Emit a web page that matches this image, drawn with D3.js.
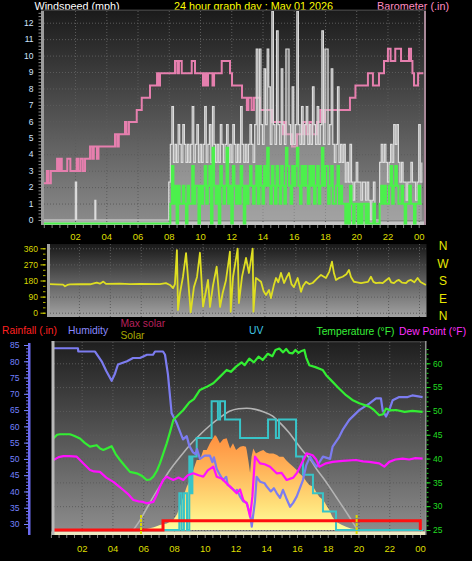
<!DOCTYPE html>
<html>
<head>
<meta charset="utf-8">
<script src="https://cdn.jsdelivr.net/npm/d3@7/dist/d3.min.js"></script>
<style>
html,body{margin:0;padding:0;background:#000;}
svg{display:block;}
</style>
</head>
<body>
<svg id="chart" width="472" height="561"></svg>
<script>
// ================= DATA =================
const hourTicks = [2,4,6,8,10,12,14,16,18,20,22,24];
const hourTickLabels = ["02","04","06","08","10","12","14","16","18","20","22","00"];
const windTicks = [0,1,2,3,4,5,6,7,8,9,10,11,12];
const baroTicks = [29.78,29.79,29.8,29.81,29.82,29.83,29.84,29.85,29.86,29.87,29.88,29.89,29.9,29.91,29.92,29.93,29.94,29.95];
const dirTicks = [0,90,180,270,360];
const compassLabels = ["N","W","S","E","N"];
const humidityTicks = [30,35,40,45,50,55,60,65,70,75,80,85];
const rainTicks = [0,0.1,0.2];
const rainTickLabels = ["0","0.1","0.2"];
const tempTicks = [25,30,35,40,45,50,55,60];

// barometer (.in) steps: [hour, value]
const baroSteps = [[0,29.81],[0.2,29.82],[0.3,29.81],[0.45,29.82],[0.85,29.83],[0.95,29.82],[1.05,29.83],[1.15,29.82],[1.5,29.83],[1.7,29.82],[2.1,29.83],[2.2,29.82],[2.35,29.83],[2.5,29.82],[2.64,29.83],[2.96,29.84],[3.1,29.83],[3.2,29.84],[3.4,29.83],[3.5,29.84],[4.56,29.85],[4.7,29.84],[4.8,29.85],[5.2,29.86],[5.3,29.85],[5.45,29.86],[5.95,29.87],[6.27,29.88],[6.8,29.89],[7.25,29.9],[7.35,29.89],[7.44,29.9],[8.4,29.91],[8.55,29.9],[8.65,29.91],[8.83,29.9],[9.47,29.91],[9.68,29.9],[10.19,29.89],[10.3,29.9],[10.4,29.89],[10.51,29.9],[10.8,29.89],[10.9,29.9],[11.39,29.91],[11.92,29.9],[12.05,29.89],[12.69,29.88],[13.0,29.87],[13.1,29.88],[13.3,29.87],[13.45,29.88],[13.84,29.87],[14.61,29.86],[15.31,29.85],[15.4,29.86],[15.5,29.85],[15.89,29.84],[16.21,29.85],[16.59,29.86],[16.8,29.85],[17.0,29.86],[17.2,29.85],[17.49,29.86],[17.7,29.87],[17.85,29.86],[18.0,29.87],[19.6,29.88],[19.95,29.89],[20.75,29.9],[21.07,29.89],[21.46,29.9],[21.78,29.91],[22.03,29.92],[22.2,29.91],[22.5,29.92],[22.87,29.91],[23.38,29.92],[23.51,29.91],[23.6,29.9],[23.7,29.89],[23.96,29.9],[24.3,29.9]];

// wind gust (mph) before 08:00 : [hour, value]
const gustEarly = [[0,0],[2.02,2.3],[2.1,0],[3.27,1.2],[3.33,0]];
// wind gust / speed (mph) from 08:00, one value per 0.1 h
const windStartHour = 8.0, windStepHour = 0.1;
const gustMph = [
 2.3,4.6,6.9,3.5,4.6,3.5,5.8,4.6,3.5,5.8,
 4.6,3.5,4.6,3.5,4.6,6.9,3.5,4.6,5.8,3.5,
 4.6,3.5,4.6,6.9,3.5,4.6,5.8,3.5,6.9,4.6,
 3.5,4.6,3.5,5.8,4.6,3.5,4.6,5.8,3.5,4.6,
 3.5,5.8,4.6,3.5,4.6,3.5,6.9,4.6,3.5,4.6,
 3.5,4.6,5.8,4.6,3.5,5.8,10.4,4.6,10.4,5.8,
 4.6,9.2,5.8,10.4,8.1,4.6,12.7,5.8,4.6,11.5,
 5.8,4.6,9.2,5.8,4.6,10.4,10.4,5.8,4.6,8.1,
 4.6,5.8,12.7,5.8,4.6,6.9,4.6,5.8,6.9,4.6,
 5.8,4.6,8.1,5.8,4.6,6.9,4.6,5.8,11.5,4.6,
 10.4,10.4,4.6,5.8,9.2,4.6,3.5,4.6,8.1,3.5,
 4.6,3.5,4.6,2.3,3.5,2.3,4.6,2.3,1.2,2.3,
 3.5,2.3,2.3,1.2,2.3,2.3,1.2,2.3,1.2,0,
 1.2,2.3,0,0,0,3.5,4.6,3.5,4.6,3.5,
 2.3,3.5,4.6,3.5,5.8,4.6,5.8,3.5,2.3,3.5,
 2.3,2.3,1.2,2.3,2.3,3.5,2.3,2.3,1.2,2.3,
 5.8,2.3,3.5];
const speedMph = [
 0,1.2,3.5,1.2,2.3,0,2.3,1.2,1.2,2.3,
 1.2,0,2.3,1.2,1.2,3.5,1.2,2.3,2.3,0,
 2.3,1.2,2.3,3.5,1.2,2.3,3.5,0,4.6,2.3,
 1.2,2.3,0,3.5,2.3,1.2,2.3,4.6,1.2,2.3,
 0,3.5,2.3,1.2,2.3,1.2,3.5,2.3,0,2.3,
 1.2,2.3,3.5,2.3,1.2,2.3,3.5,1.2,3.5,2.3,
 1.2,3.5,2.3,4.6,2.3,1.2,3.5,2.3,1.2,3.5,
 2.3,1.2,3.5,2.3,1.2,4.6,3.5,2.3,1.2,3.5,
 2.3,3.5,4.6,2.3,1.2,3.5,2.3,3.5,2.3,1.2,
 3.5,2.3,3.5,1.2,2.3,3.5,1.2,2.3,4.6,2.3,
 3.5,3.5,1.2,2.3,3.5,1.2,1.2,2.3,3.5,1.2,
 2.3,1.2,1.2,0,1.2,0,2.3,1.2,0,1.2,
 1.2,0,1.2,0,1.2,1.2,0,1.2,0,0,
 0,1.2,0,0,0,1.2,2.3,1.2,2.3,1.2,
 1.2,2.3,3.5,1.2,2.3,3.5,2.3,1.2,1.2,2.3,
 1.2,0,1.2,1.2,2.3,1.2,1.2,0,1.2,1.2,
 2.3,1.2,1.2];

// wind direction (deg): [hour, value]
const windDir = [[0,160],[0.5,158],[0.97,157],[1.1,148],[1.25,155],[1.42,158],[2.07,160],[2.72,159],[3.15,168],[3.36,162],[3.58,174],[3.75,161],[4.66,162],[5.3,160],[5.95,161],[7.24,160],[7.63,165],[7.89,155],[8.09,138],[8.21,160],[8.34,350],[8.41,15],[8.54,110],[8.73,200],[8.93,333],[9.23,2],[9.44,143],[9.64,200],[9.83,335],[10.03,33],[10.35,183],[10.48,32],[10.67,150],[10.91,257],[11.13,32],[11.3,110],[11.51,180],[11.77,341],[11.82,5],[11.97,201],[12.27,358],[12.35,54],[12.55,200],[12.81,306],[13.0,222],[13.24,358],[13.29,6],[13.45,194],[13.6,185],[13.78,173],[13.95,120],[14.1,99],[14.3,127],[14.42,82],[14.6,150],[14.75,194],[14.9,170],[15.07,222],[15.27,166],[15.45,200],[15.59,222],[15.75,160],[15.91,143],[16.15,194],[16.37,117],[16.5,150],[16.69,173],[16.9,160],[17.12,166],[17.4,190],[17.66,211],[17.98,194],[18.2,230],[18.37,285],[18.5,220],[18.63,183],[18.85,195],[19.06,201],[19.3,215],[19.47,239],[19.6,200],[19.79,173],[20.0,170],[20.25,165],[20.5,170],[20.7,172],[20.89,201],[21.05,172],[21.22,165],[21.45,168],[21.65,165],[21.85,180],[22.06,194],[22.2,170],[22.38,165],[22.55,178],[22.7,183],[22.9,168],[23.16,165],[23.3,178],[23.48,183],[23.7,170],[23.91,194],[24.1,172],[24.45,155]];

// humidity (%)
const humidity = [[0,84],[1.76,84],[1.78,83],[2.87,83],[3.3,80],[3.6,77],[3.95,74],[4.15,76],[4.36,79],[4.95,80],[5.34,81],[5.79,81],[6.25,82],[6.64,82],[6.77,83],[7.29,83],[7.42,82],[7.61,76],[7.85,64],[8.18,61],[8.59,56],[8.83,57],[9.0,54],[9.24,52],[9.4,51.5],[9.5,53],[9.69,50],[10.0,51],[10.34,51],[10.5,49],[10.6,50.5],[10.78,47],[11.0,45],[11.19,43.5],[11.4,44.5],[11.5,42],[11.65,41.5],[12.0,40],[12.1,40.5],[12.3,38.4],[12.5,37],[12.73,36.5],[12.95,33],[13.06,29.2],[13.16,33],[13.27,37],[13.38,44.5],[13.6,43],[13.9,42.5],[14.03,41.5],[14.3,40],[14.5,41],[14.68,39.5],[14.9,38],[15.09,40.5],[15.3,38],[15.55,35.3],[15.75,36.5],[15.98,38.4],[16.39,43.5],[16.6,48],[16.85,50.7],[17.05,49],[17.28,47.6],[17.69,50.7],[18.15,50],[18.32,53.8],[18.75,56.8],[18.97,58.9],[19.4,62],[20.05,65],[20.7,67],[21.14,68.6],[21.46,68.6],[21.57,65],[21.79,63],[22.0,65],[22.22,68],[22.65,69],[23.2,69],[23.5,69.5],[24.17,69]];
// temperature (F)
const temperature = [[0.16,44.2],[0.4,45],[0.59,45.1],[1.24,45.1],[1.5,44.8],[1.89,44.2],[2.2,43.3],[2.54,42.5],[2.98,42.8],[3.2,42.1],[3.41,41.8],[3.7,42.2],[3.95,42.6],[4.2,41],[4.49,39.7],[4.8,38.5],[5.14,37.2],[5.58,36.9],[5.9,36.4],[6.23,35.5],[6.45,35.6],[6.66,36.2],[6.9,37.5],[7.09,39],[7.3,41],[7.53,43.2],[7.74,45.5],[7.96,48.1],[8.3,49.2],[8.61,50.2],[9.0,51.8],[9.3,52.5],[9.69,54.4],[10.1,55],[10.56,55.8],[11.0,57.2],[11.43,58.6],[11.7,58.2],[12.04,59.3],[12.4,60.2],[12.6,59.6],[12.9,61],[13.2,60.2],[13.5,61.4],[13.77,60.7],[14.1,62],[14.4,61.5],[14.6,62.8],[14.85,63.1],[15.1,62.3],[15.3,63],[15.5,62.2],[15.72,62.1],[15.9,62.8],[16.1,62.2],[16.3,62.6],[16.48,62.8],[16.6,61.2],[16.8,59.6],[17.2,59.2],[17.67,58.6],[17.9,57.5],[18.32,56.1],[18.7,54.8],[19.19,53.3],[19.6,52.3],[20.05,51.6],[20.7,50.9],[21.0,50.2],[21.35,49.1],[21.6,49.3],[21.79,50.5],[22.1,50.1],[22.44,50.2],[23.0,49.8],[23.5,50],[24.17,49.8]];
// dew point (F)
const dewPoint = [[0.16,39.7],[0.5,40.3],[0.81,40.5],[1.2,40.5],[1.68,40.4],[2.1,39],[2.54,37.6],[2.8,37.3],[3.19,37.2],[3.6,36],[4.06,35.1],[4.4,34.2],[4.71,33.4],[5.0,32.6],[5.36,31.3],[5.7,31],[6.0,30.9],[6.23,30.6],[6.66,30.9],[6.9,32.5],[7.09,34.1],[7.3,35.5],[7.53,36.2],[7.75,35.8],[7.96,35.5],[8.3,36],[8.61,35.5],[8.9,36.5],[9.26,36.9],[9.6,36.5],[9.91,36.2],[10.2,37.5],[10.56,38.3],[10.78,36.2],[11.1,35.8],[11.43,34.8],[11.75,33.8],[12.08,32.7],[12.3,33.5],[12.51,31.3],[12.75,30.5],[12.95,27.8],[13.1,32],[13.27,40.4],[13.6,39],[13.9,38.8],[14.25,38.3],[14.68,36.9],[15.0,37],[15.33,35.5],[15.76,36],[16.0,37],[16.2,38.3],[16.63,41.1],[17.02,40.7],[17.25,39.8],[17.45,38.3],[17.89,39],[18.32,39.3],[18.97,39.5],[19.84,39.7],[20.3,39.4],[20.7,39.3],[21.35,39],[21.68,38.3],[22.0,39.3],[22.4,39.8],[22.87,40],[23.3,39.8],[23.7,40.1],[24.17,40]];
// UV index steps
const uvSteps = [[0,0],[8.35,2],[8.5,0],[8.65,2],[8.85,0],[9.0,4],[9.1,2],[9.2,4],[9.48,5],[10.45,7],[10.86,6],[11.0,7],[11.32,6],[12.3,5],[14.12,6],[14.63,5],[14.83,6],[15.94,4],[16.39,3],[17.04,2],[17.69,1],[18.54,0],[24.2,0]];
// solar radiation (W/m2)
const solar = [[5.79,0],[6.23,8],[6.7,20],[7.09,38],[7.53,50],[7.96,76],[8.2,120],[8.39,177],[8.6,250],[8.83,330],[9.04,380],[9.26,456],[9.48,533],[9.69,533],[9.91,608],[10.13,608],[10.34,660],[10.5,690],[10.67,723],[10.78,710],[10.99,660],[11.2,690],[11.43,698],[11.65,621],[11.84,660],[12.04,608],[12.3,634],[12.5,640],[12.68,634],[12.73,608],[12.85,520],[12.95,433],[13.05,560],[13.16,621],[13.33,583],[13.6,600],[13.81,608],[14.0,590],[14.2,583],[14.46,583],[14.7,570],[14.85,558],[15.11,558],[15.3,530],[15.5,507],[15.76,482],[15.95,460],[16.15,431],[16.41,406],[16.6,370],[16.8,342],[17.06,330],[17.25,290],[17.45,253],[17.71,228],[17.9,190],[18.1,152],[18.3,100],[18.54,63],[18.9,40],[19.19,25],[19.5,12],[19.84,5],[20.1,0]];
// max solar (W/m2)
const maxSolar = [[5.36,0],[5.8,75],[6.44,209],[7.09,335],[7.74,456],[8.39,555],[9.04,647],[9.69,725],[10.34,795],[10.99,855],[11.65,905],[12.2,922],[12.73,926],[13.3,918],[13.81,900],[14.4,868],[14.9,815],[15.45,745],[15.94,670],[16.4,600],[16.85,540],[17.24,469],[17.71,395],[18.1,330],[18.54,253],[18.97,178],[19.4,101],[19.7,45],[19.95,0]];
// rainfall (.in) steps
const rainSteps = [[0,0],[7.29,0.01],[24.02,0]];
// sunrise / sunset markers (hour)
const sunMarks = [5.86, 19.88];

// ================= DRAW =================
const FONT = '"Liberation Sans", Arial, Helvetica, sans-serif';
const svg = d3.select("#chart");
const defs = svg.append("defs");

function vgrad(id, y1, y2, stops) {
  const g = defs.append("linearGradient").attr("id", id)
    .attr("gradientUnits", "userSpaceOnUse").attr("x1", 0).attr("x2", 0).attr("y1", y1).attr("y2", y2);
  stops.forEach(s => g.append("stop").attr("offset", s[0]).attr("stop-color", s[1]));
}
function clip(id, x, y, w, h) {
  defs.append("clipPath").attr("id", id).append("rect").attr("x", x).attr("y", y).attr("width", w).attr("height", h);
}
function styleAxis(g, color, size, keepDomain) {
  g.attr("font-family", FONT).attr("font-size", size);
  if (!keepDomain) g.select(".domain").remove();
  g.selectAll("line").attr("stroke", color);
  g.selectAll("text").attr("fill", color);
  return g;
}
function grid(g) {
  g.select(".domain").remove();
  g.selectAll("text").remove();
  g.selectAll("line").attr("stroke", "#5c5c5c").attr("stroke-dasharray", "1,2");
}
function txt(x, y, s, color, size, anchor) {
  return svg.append("text").attr("x", x).attr("y", y).text(s).attr("fill", color)
    .attr("font-size", size).attr("font-family", FONT).attr("text-anchor", anchor || "start");
}

// ---------- titles
txt(34.5, 10, "Windspeed (mph)", "#ffffff", 10.8);
txt(174, 10, "24 hour graph day : May 01 2026", "#ffff00", 10.8);
txt(377, 10, "Barometer (.in)", "#ff8cc0", 10.8);

// ================= PANEL 1 : wind + barometer =================
const xTop = d3.scaleLinear().domain([0, 24]).range([43.8, 418.7]);
const yWind = d3.scaleLinear().domain([0, 12]).range([220, 22.7]);
const yBaro = d3.scaleLinear().domain([29.78, 29.95]).range([220, 12]);

vgrad("bg1", 11, 222, [[0, "#1b1b1b"], [1, "#8a8a8a"]]);
svg.append("rect").attr("x", 44).attr("y", 11).attr("width", 381).attr("height", 211).attr("fill", "url(#bg1)");
svg.append("rect").attr("x", 41).attr("y", 9.5).attr("width", 385).attr("height", 1.5).attr("fill", "#3c3c3c");
svg.append("rect").attr("x", 44).attr("y", 221.5).attr("width", 381).attr("height", 3.5).attr("fill", "#c4c4c4");
grid(svg.append("g").attr("transform", "translate(0,222)").call(d3.axisBottom(xTop).tickValues(hourTicks).tickSize(-211)));
grid(svg.append("g").attr("transform", "translate(44,0)").call(d3.axisLeft(yWind).tickValues(windTicks.slice(1)).tickSize(-381)));

clip("c1", 44, 11, 381, 214.5);
const p1 = svg.append("g").attr("clip-path", "url(#c1)");

// barometer
p1.append("path").datum(baroSteps)
  .attr("d", d3.line().x(d => xTop(d[0])).y(d => yBaro(d[1])).curve(d3.curveStepAfter))
  .attr("fill", "none").attr("stroke", "#e67fae").attr("stroke-width", 2);

// gust
const gustData = gustEarly.concat(gustMph.map((v, i) => [windStartHour + i * windStepHour, v]));
p1.append("path").datum(gustData)
  .attr("d", d3.area().x(d => xTop(d[0])).y0(yWind(0)).y1(d => yWind(d[1])).curve(d3.curveStepAfter))
  .attr("fill", "#c8c8c8").attr("fill-opacity", 0.4);
p1.append("path").datum(gustData)
  .attr("d", d3.line().x(d => xTop(d[0])).y(d => yWind(d[1])).curve(d3.curveStepAfter))
  .attr("fill", "none").attr("stroke", "#dcdcdc").attr("stroke-width", 1.2);

// speed
const speedData = [[0, 0]].concat(speedMph.map((v, i) => [windStartHour + i * windStepHour, v]));
p1.append("path").datum(speedData).attr("transform", "translate(0,3.5)")
  .attr("d", d3.line().x(d => xTop(d[0])).y(d => yWind(d[1])).curve(d3.curveStepAfter))
  .attr("fill", "none").attr("stroke", "#4cf04c").attr("stroke-width", 2);

// left axis (wind)
svg.append("rect").attr("x", 41).attr("y", 11).attr("width", 3).attr("height", 214).attr("fill", "#9c9c9c");
styleAxis(svg.append("g").attr("transform", "translate(41,0)")
  .call(d3.axisLeft(yWind).tickValues(d3.range(0, 12.75, 0.2)).tickSize(2.5).tickFormat("")), "#8a8a8a", 8);
styleAxis(svg.append("g").attr("transform", "translate(41,0)")
  .call(d3.axisLeft(yWind).tickValues(windTicks).tickSize(0).tickPadding(7.5).tickFormat(d3.format("d"))), "#d2e4ff", 8.5);

// right axis (barometer)
clip("cb", 420, 11, 52, 215);
svg.append("rect").attr("x", 424).attr("y", 11).attr("width", 2).attr("height", 214).attr("fill", "#a88898");
styleAxis(svg.append("g").attr("clip-path", "url(#cb)").attr("transform", "translate(426,0)")
  .call(d3.axisRight(yBaro).tickValues(d3.range(29.78, 29.9526, 0.005)).tickSize(2.5).tickFormat("")), "#d070a0", 8);
styleAxis(svg.append("g").attr("clip-path", "url(#cb)").attr("transform", "translate(426,0)")
  .call(d3.axisRight(yBaro).tickValues(baroTicks).tickSize(3.5).tickPadding(2).tickFormat(d => String(d))), "#ff88bb", 8);

// x axis
styleAxis(svg.append("g").attr("transform", "translate(0,225)")
  .call(d3.axisBottom(xTop).tickValues(d3.range(0, 24.5, 0.5)).tickSize(3).tickFormat("")), "#808080", 8);
styleAxis(svg.append("g").attr("transform", "translate(0,225)")
  .call(d3.axisBottom(xTop).tickValues(hourTicks).tickSize(0).tickPadding(8.5).tickFormat((d, i) => hourTickLabels[i])), "#dede00", 9.5);

// ================= PANEL 2 : wind direction =================
const xDir = d3.scaleLinear().domain([0, 24]).range([48, 419]);
const yDir = d3.scaleLinear().domain([0, 360]).range([312.7, 248.3]);
vgrad("bg2", 244, 317, [[0, "#181818"], [1, "#a2a2a2"]]);
svg.append("rect").attr("x", 50).attr("y", 244).attr("width", 376.5).attr("height", 73).attr("fill", "url(#bg2)");
grid(svg.append("g").attr("transform", "translate(0,317)").call(d3.axisBottom(xDir).tickValues(hourTicks).tickSize(-73)));
grid(svg.append("g").attr("transform", "translate(50,0)").call(d3.axisLeft(yDir).tickValues(dirTicks).tickSize(-376)));
svg.append("rect").attr("x", 47).attr("y", 244).attr("width", 3).attr("height", 73).attr("fill", "#a0a0a0");
clip("c2", 50, 244, 376.5, 73);
svg.append("g").attr("clip-path", "url(#c2)").append("path").datum(windDir)
  .attr("d", d3.line().x(d => xDir(d[0])).y(d => yDir(d[1])))
  .attr("fill", "none").attr("stroke", "#dede22").attr("stroke-width", 1.8).attr("stroke-linejoin", "round");
styleAxis(svg.append("g").attr("transform", "translate(45.5,0)")
  .call(d3.axisLeft(yDir).tickValues(d3.range(0, 361, 30)).tickSize(2.5).tickFormat("")), "#b8b800", 8);
styleAxis(svg.append("g").attr("transform", "translate(45.5,0)")
  .call(d3.axisLeft(yDir).tickValues(dirTicks).tickSize(5).tickPadding(2.5).tickFormat(d3.format("d"))), "#d8d800", 8.5);
const compassY = d3.scaleLinear().domain([0, 4]).range([246, 316]);
compassLabels.forEach((s, i) => txt(443, compassY(i) + 4.3, s, "#e8e800", 12, "middle"));

// ================= PANEL 3 : rain/humidity/solar/uv/temp =================
const xBot = d3.scaleLinear().domain([0, 24]).range([50.9, 420]);
const yHum = d3.scaleLinear().domain([30, 85]).range([524, 345]);
const yRain = d3.scaleLinear().domain([0, 0.2]).range([530, 343.3]);
const yTemp = d3.scaleLinear().domain([25, 60]).range([530, 363.3]);
const yUV = d3.scaleLinear().domain([0, 10]).range([530, 346]);
const ySolar = d3.scaleLinear().domain([0, 1400]).range([530, 346]);

// legend
txt(2, 334, "Rainfall (.in)", "#ff2020", 10.3);
txt(68, 334, "Humidity", "#8a8aff", 10.3);
txt(120.5, 327, "Max solar", "#b8205c", 10.3);
txt(120.5, 339, "Solar", "#a8a800", 10.3);
txt(249, 334, "UV", "#40c8e8", 10.3);
txt(316.5, 334.5, "Temperature (°F)", "#38f038", 10.3);
txt(399, 334.5, "Dew Point (°F)", "#ff30ff", 10.3);

vgrad("bg3", 341, 535, [[0, "#1e1e1e"], [1, "#8e8e8e"]]);
svg.append("rect").attr("x", 54).attr("y", 341).attr("width", 372).attr("height", 194).attr("fill", "url(#bg3)");
svg.append("rect").attr("x", 51.5).attr("y", 341).attr("width", 375).attr("height", 1.5).attr("fill", "#3c3c3c");
grid(svg.append("g").attr("transform", "translate(0,535)").call(d3.axisBottom(xBot).tickValues(hourTicks).tickSize(-194)));
grid(svg.append("g").attr("transform", "translate(54,0)").call(d3.axisLeft(yTemp).tickValues(tempTicks).tickSize(-372)));
svg.append("rect").attr("x", 51.5).attr("y", 531.5).attr("width", 374.5).attr("height", 3.5).attr("fill", "#ece9c2");

clip("c3", 54, 342, 372, 193);
const p3 = svg.append("g").attr("clip-path", "url(#c3)");

vgrad("solarGrad", 430, 530, [[0, "#ff8a3a"], [0.4, "#ffb45a"], [0.75, "#ffe07a"], [1, "#ffff9e"]]);
p3.append("path").datum(solar)
  .attr("d", d3.area().x(d => xBot(d[0])).y0(ySolar(0)).y1(d => ySolar(d[1])))
  .attr("fill", "url(#solarGrad)");
p3.append("path").datum(maxSolar)
  .attr("d", d3.line().x(d => xBot(d[0])).y(d => ySolar(d[1])).curve(d3.curveMonotoneX))
  .attr("fill", "none").attr("stroke", "#b4b4b4").attr("stroke-width", 1.6);
p3.append("path").datum(uvSteps)
  .attr("d", d3.line().x(d => xBot(d[0])).y(d => yUV(d[1])).curve(d3.curveStepAfter))
  .attr("fill", "none").attr("stroke", "#38c4c8").attr("stroke-width", 2);
p3.append("path").datum(humidity)
  .attr("d", d3.line().x(d => xBot(d[0])).y(d => yHum(d[1])))
  .attr("fill", "none").attr("stroke", "#7c7cf0").attr("stroke-width", 2.2).attr("stroke-linejoin", "round");
p3.append("path").datum(dewPoint)
  .attr("d", d3.line().x(d => xBot(d[0])).y(d => yTemp(d[1])))
  .attr("fill", "none").attr("stroke", "#ff10ff").attr("stroke-width", 2.2).attr("stroke-linejoin", "round");
p3.append("path").datum(temperature)
  .attr("d", d3.line().x(d => xBot(d[0])).y(d => yTemp(d[1])))
  .attr("fill", "none").attr("stroke", "#33ee33").attr("stroke-width", 2.2).attr("stroke-linejoin", "round");
p3.append("path").datum(rainSteps)
  .attr("d", d3.line().x(d => xBot(d[0])).y(d => yRain(d[1])).curve(d3.curveStepAfter))
  .attr("fill", "none").attr("stroke", "#ff1010").attr("stroke-width", 3);
p3.selectAll("line.sun").data(sunMarks).enter().append("line")
  .attr("x1", d => xBot(d)).attr("x2", d => xBot(d)).attr("y1", 515).attr("y2", 535)
  .attr("stroke", "#d8d800").attr("stroke-width", 2).attr("stroke-dasharray", "3,1");

svg.append("rect").attr("x", 51.5).attr("y", 341).attr("width", 3).attr("height", 194).attr("fill", "#b8b8b8");

// humidity axis
svg.append("rect").attr("x", 28).attr("y", 343).attr("width", 2.5).attr("height", 192).attr("fill", "#6c6cf0");
styleAxis(svg.append("g").attr("transform", "translate(28,0)")
  .call(d3.axisLeft(yHum).tickValues(d3.range(29, 86, 1)).tickSize(2).tickFormat("")), "#6c6cf0", 8);
styleAxis(svg.append("g").attr("transform", "translate(28,0)")
  .call(d3.axisLeft(yHum).tickValues(humidityTicks).tickSize(4).tickPadding(4.5).tickFormat(d3.format("d"))), "#7482ff", 8.5);

// rain axis
clip("cr", 0, 342, 60, 200);
styleAxis(svg.append("g").attr("clip-path", "url(#cr)").attr("transform", "translate(53,0)")
  .call(d3.axisLeft(yRain).tickValues(d3.range(0, 0.201, 0.02)).tickSize(3).tickFormat("")), "#c80000", 8);
styleAxis(svg.append("g").attr("clip-path", "url(#cr)").attr("transform", "translate(53,0)")
  .call(d3.axisLeft(yRain).tickValues(rainTicks).tickSize(3).tickPadding(5).tickFormat((d, i) => rainTickLabels[i])), "#e00000", 8.5);

// temperature axis
svg.append("rect").attr("x", 425).attr("y", 341).attr("width", 1.5).attr("height", 194).attr("fill", "#909090");
styleAxis(svg.append("g").attr("transform", "translate(426.5,0)")
  .call(d3.axisRight(yTemp).tickValues(d3.range(25, 64, 1)).tickSize(2).tickFormat("")), "#22cc22", 8);
styleAxis(svg.append("g").attr("transform", "translate(426.5,0)")
  .call(d3.axisRight(yTemp).tickValues(tempTicks).tickSize(4).tickPadding(2.5).tickFormat(d3.format("d"))), "#22dd22", 8.5);

// bottom x axis
styleAxis(svg.append("g").attr("transform", "translate(0,535)")
  .call(d3.axisBottom(xBot).tickValues(d3.range(0, 24.5, 0.5)).tickSize(3).tickFormat("")), "#808080", 8);
styleAxis(svg.append("g").attr("transform", "translate(0,535)")
  .call(d3.axisBottom(xBot).tickValues(hourTicks).tickSize(0).tickPadding(10).tickFormat((d, i) => hourTickLabels[i])), "#dede00", 9.5);
</script>
</body>
</html>
